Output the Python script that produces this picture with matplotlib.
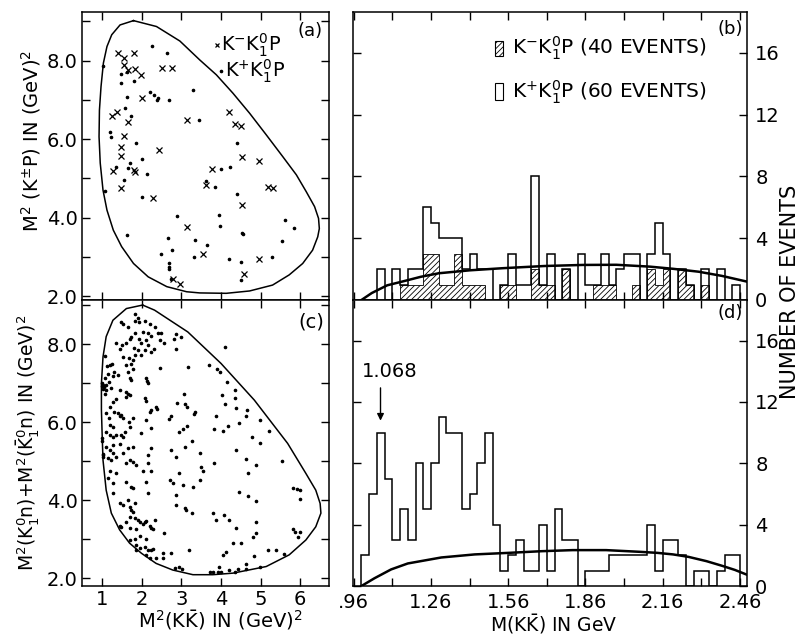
import numpy as np
import matplotlib
matplotlib.use("Agg")
import matplotlib.pyplot as plt
from matplotlib.patches import Rectangle

plt.rcParams['font.family'] = ['DejaVu Sans']
plt.rcParams['mathtext.fontset'] = 'dejavusans'
plt.rcParams['hatch.linewidth'] = 0.6

# ---------------- data ----------------
# (a) Dalitz plot, K- K1 P (crosses) and K+ K1 P (dots)
km_x = [1.39, 1.54, 1.79, 1.54, 1.66, 1.83, 1.98, 2.52, 2.77, 2.01, 1.24, 1.38, 1.65, 1.54, 1.47, 1.47, 2.43, 1.28, 1.79, 1.83,
        1.48, 2.27, 3.13, 3.13, 3.55, 2.78, 2.96, 4.19, 4.36, 4.51, 4.54, 4.95, 3.76, 3.63, 5.18, 5.30, 4.54, 4.95, 4.59]
km_y = [8.19, 8.06, 8.19, 7.89, 7.77, 7.78, 7.64, 7.80, 7.80, 7.04, 6.60, 6.68, 6.43, 6.08, 5.81, 5.58, 5.72, 5.20, 5.21, 5.15,
        4.75, 4.49, 6.49, 3.75, 3.07, 2.43, 2.31, 6.70, 6.38, 6.34, 5.55, 5.44, 5.24, 4.83, 4.79, 4.76, 4.32, 2.94, 2.55]
kp_pts = [(2.25, 8.38), (2.63, 8.19), (1.03, 7.87), (1.47, 7.66), (1.62, 7.70), (1.47, 7.43), (1.79, 7.48), (1.62, 7.07),
          (2.21, 7.20), (2.31, 7.13), (2.39, 7.00), (2.41, 7.04), (2.68, 7.00), (3.29, 7.26), (1.58, 6.79), (1.72, 6.59),
          (3.44, 6.49), (1.20, 6.17), (1.23, 6.06), (1.85, 5.90), (2.00, 5.49), (1.35, 5.30), (1.70, 5.40), (1.66, 5.27),
          (2.14, 5.10), (1.55, 4.96), (1.08, 4.69), (2.00, 4.53), (2.90, 4.04), (1.62, 3.56), (2.65, 3.49), (3.34, 3.43),
          (2.48, 3.07), (2.75, 3.17), (3.31, 2.99), (2.69, 2.83), (2.68, 2.75), (2.68, 2.69), (2.73, 2.43), (4.41, 5.90),
          (3.99, 5.24), (4.22, 5.30), (3.61, 4.94), (3.84, 4.79), (4.41, 4.59), (3.95, 4.07), (3.98, 3.79), (3.65, 3.30),
          (4.54, 3.61), (4.55, 3.58), (5.62, 3.94), (5.83, 3.73), (5.54, 3.40), (5.29, 3.00), (4.20, 2.94), (4.51, 2.88),
          (4.51, 2.41)]
bound_a_x = [1.79, 2.37, 2.96, 3.46, 3.88, 4.30, 4.72, 5.14, 5.56, 5.90, 6.15, 6.36, 6.46, 6.48, 6.44, 6.31, 6.06, 5.72, 5.30,
             4.72, 4.13, 3.46, 3.13, 2.63, 2.16, 1.79, 1.49, 1.28, 1.12, 1.02, 0.95, 0.92, 0.93, 0.97, 1.03, 1.12, 1.24, 1.45, 1.79]
bound_a_y = [9.02, 8.87, 8.50, 8.02, 7.64, 7.17, 6.66, 6.11, 5.55, 5.09, 4.66, 4.28, 3.98, 3.72, 3.51, 3.17, 2.83, 2.54, 2.28,
             2.13, 2.07, 2.08, 2.11, 2.24, 2.49, 2.83, 3.26, 3.68, 4.19, 4.70, 5.39, 6.06, 6.74, 7.34, 7.94, 8.36, 8.66, 8.91, 9.02]

# (c) Dalitz plot, K1 K1bar n
kkn_pts = [
    (2.41, 8.28), (2.49, 8.28), (2.45, 8.11), (2.55, 8.04), (2.80, 8.14), (2.87, 8.26), (2.99, 8.20), (2.85, 7.88), (4.09, 7.94),
    (2.47, 7.40), (3.16, 7.41), (3.69, 7.46), (3.90, 7.36), (3.97, 7.30), (4.14, 7.03), (4.34, 6.83), (4.03, 6.70), (4.35, 6.63),
    (3.06, 6.72), (2.88, 6.49), (3.08, 6.46), (3.14, 6.40), (4.10, 6.46), (4.38, 6.38), (4.66, 6.32), (2.39, 6.34), (2.74, 6.16),
    (2.68, 6.09), (3.33, 6.26), (3.31, 6.21), (3.86, 6.15), (4.63, 6.15), (4.97, 6.06), (4.46, 5.99), (4.17, 5.91), (3.83, 5.83),
    (4.04, 5.78), (3.14, 5.91), (3.04, 5.82), (2.94, 5.74), (4.78, 5.62), (4.97, 5.46), (5.20, 5.77), (3.27, 5.52),
    (3.46, 5.21), (4.38, 5.29), (4.63, 5.05), (4.88, 4.91), (4.67, 4.69), (4.46, 4.22), (4.67, 4.11), (4.88, 3.98), (5.55, 5.01),
    (5.81, 4.31), (5.92, 4.29), (6.00, 4.26), (5.99, 4.03), (5.81, 3.26), (5.87, 3.18), (5.99, 3.18), (5.95, 3.07), (5.58, 2.62),
    (5.39, 2.73), (5.18, 2.73), (4.99, 2.30), (4.84, 2.56), (4.63, 2.36), (4.63, 2.23), (4.42, 2.23), (4.21, 2.21), (4.13, 2.67),
    (4.04, 2.60), (3.96, 2.30), (3.79, 2.15), (3.92, 2.15), (4.00, 2.15), (4.34, 2.17), (3.71, 2.15), (4.07, 3.62), (3.88, 3.50),
    (4.21, 3.50), (4.38, 3.28), (4.30, 2.91), (4.51, 2.90), (4.80, 3.07), (4.87, 3.43), (4.88, 3.15), (3.79, 3.67),
    (2.95, 4.69), (2.70, 4.52), (2.78, 4.45), (3.04, 4.39), (2.87, 5.12), (3.08, 5.38), (2.74, 5.29), (3.50, 4.86), (3.54, 4.74),
    (3.83, 4.95), (3.48, 4.52), (3.29, 4.35), (2.87, 3.88), (3.08, 3.79), (3.12, 3.75), (3.27, 3.67), (2.87, 4.14), (2.57, 3.15),
    (2.53, 2.64), (2.53, 2.51), (2.74, 2.64), (2.93, 2.30), (2.83, 2.26), (3.02, 2.23), (3.20, 2.73), (2.28, 2.74), (2.24, 3.28),
    (2.33, 3.50),
    (1.84, 8.78), (1.90, 8.67), (1.82, 8.61), (1.93, 8.58), (1.48, 8.58), (1.52, 8.52), (1.65, 8.45), (2.07, 8.61), (2.20, 8.52),
    (2.32, 8.45), (2.03, 8.32), (2.15, 8.28), (2.24, 8.21), (1.82, 8.28), (1.73, 8.20), (1.69, 8.13), (1.93, 8.13), (2.11, 8.11),
    (1.99, 8.04), (1.36, 8.03), (1.51, 7.98), (1.61, 8.03), (1.44, 7.87), (1.80, 7.91), (1.90, 7.85), (2.07, 7.85), (2.24, 7.81),
    (2.30, 7.87), (2.15, 7.98), (1.84, 7.73), (1.78, 7.60), (1.73, 7.51), (1.99, 7.73), (1.52, 7.68), (1.68, 7.64), (1.19, 7.47),
    (1.61, 7.47), (1.78, 7.38), (1.65, 7.30), (1.69, 7.13), (1.73, 7.09), (2.11, 7.13), (2.13, 7.07), (2.15, 7.02), (1.40, 7.21),
    (1.27, 7.19), (1.17, 7.04), (1.09, 6.96), (1.04, 6.90), (1.10, 6.83), (1.06, 6.74), (1.23, 6.87), (1.44, 6.83), (1.61, 6.79),
    (1.65, 6.74), (1.69, 6.70), (1.61, 6.66), (1.36, 6.59), (1.27, 6.53), (1.19, 6.40), (1.09, 6.25), (1.17, 6.10), (1.31, 6.27),
    (1.40, 6.23), (1.48, 6.19), (1.52, 6.10), (1.44, 6.15), (1.68, 6.02), (1.78, 6.10), (2.07, 6.62), (2.11, 6.56), (2.20, 6.27),
    (2.24, 6.32), (2.11, 6.06), (2.36, 6.40), (1.19, 5.93), (1.27, 5.89), (1.10, 5.76), (1.19, 5.68), (1.27, 5.63), (1.36, 5.68),
    (1.48, 5.68), (1.52, 5.63), (1.57, 5.76), (1.69, 5.89), (2.24, 5.85), (1.99, 5.72),
    (1.10, 5.38), (1.27, 5.42), (1.44, 5.44), (1.19, 5.29), (1.27, 5.21), (1.15, 5.08), (1.23, 5.04), (1.36, 5.12), (1.52, 5.21),
    (1.65, 5.33), (1.78, 5.38), (2.15, 5.16), (2.24, 5.33), (1.69, 5.04), (1.78, 4.99), (1.86, 4.91), (1.61, 4.95), (2.15, 4.95),
    (2.03, 4.74), (2.24, 4.74), (1.36, 4.69), (1.19, 4.74), (1.15, 4.56), (1.27, 4.44), (1.61, 4.48), (1.73, 4.35), (1.78, 4.31),
    (2.11, 4.48), (2.15, 4.18), (1.27, 4.18), (1.44, 3.92), (1.52, 3.88), (1.65, 4.01), (1.69, 3.84), (1.73, 3.75), (1.78, 3.71),
    (1.82, 3.92), (1.69, 3.58), (1.61, 3.45), (1.82, 3.54), (1.90, 3.50), (1.95, 3.45), (2.07, 3.45), (2.11, 3.48), (2.03, 3.39),
    (1.69, 3.30), (1.48, 3.32), (1.86, 3.26), (2.20, 3.35), (2.28, 3.26), (1.95, 3.09), (1.82, 3.01), (2.11, 3.01), (1.86, 2.85),
    (2.07, 2.81), (2.15, 2.73), (1.95, 2.77), (1.86, 2.73), (2.11, 2.60), (2.24, 2.73), (2.36, 2.51), (2.20, 2.51),
    (0.99, 7.00), (1.00, 6.92), (1.02, 6.86), (1.01, 6.97), (1.00, 5.60), (1.00, 5.52), (1.01, 5.20), (1.02, 5.12), (1.01, 5.16),
    (1.45, 3.35), (1.70, 2.97), (1.08, 7.70), (1.12, 7.45), (1.15, 7.25), (1.08, 7.15), (1.25, 7.50), (1.30, 7.30)]
bound_c_x = [2.02, 2.32, 3.16, 4.00, 4.84, 5.68, 6.14, 6.39, 6.50, 6.52, 6.39, 6.14, 5.72, 5.14, 4.30, 3.79, 3.29, 2.78, 2.36,
             1.99, 1.69, 1.44, 1.23, 1.10, 1.02, 1.00, 0.98, 0.98, 1.02, 1.10, 1.27, 1.61, 2.02]
bound_c_y = [9.01, 8.88, 8.32, 7.51, 6.57, 5.46, 4.69, 4.26, 3.92, 3.67, 3.32, 2.98, 2.60, 2.30, 2.13, 2.09, 2.09, 2.21, 2.38,
             2.64, 2.90, 3.24, 3.67, 4.26, 5.03, 5.63, 6.32, 7.00, 7.68, 8.20, 8.62, 8.92, 9.01]

# (b) and (d) mass histograms, 0.03 GeV bins from 0.99 to 2.46
b_total = [0, 0, 2, 0, 2, 1, 2, 2, 6, 5, 4, 4, 4, 2, 3, 2, 2, 0, 1, 3, 1, 1, 8, 1, 3,
           0, 2, 0, 3, 1, 1, 3, 1, 2, 3, 3, 0, 3, 5, 3, 0, 2, 1, 0, 2, 0, 2, 0, 1]
b_kminus = [0, 0, 0, 0, 0, 1, 1, 1, 3, 3, 1, 1, 3, 1, 1, 1, 0, 0, 1, 1, 0, 0, 2, 1, 1,
            0, 2, 0, 0, 0, 1, 1, 1, 0, 0, 1, 0, 2, 1, 2, 0, 2, 1, 0, 1, 0, 0, 0, 0]
d_counts = [2, 6, 10, 7, 3, 5, 3, 8, 5, 8, 11, 10, 10, 5, 6, 8, 10, 4, 1, 2, 3, 1, 1, 4, 1,
            5, 3, 3, 0, 1, 1, 1, 2, 2, 2, 2, 2, 4, 1, 3, 3, 2, 0, 1, 1, 0, 1, 2, 2]
bins = np.linspace(0.99, 2.46, 50)

b_curve_x = [0.99, 1.03, 1.09, 1.15, 1.22, 1.29, 1.41, 1.54, 1.70, 1.85, 1.98, 2.11, 2.20, 2.30, 2.39, 2.487]
b_curve_y = [0.0, 0.45, 0.95, 1.20, 1.50, 1.73, 1.92, 2.06, 2.20, 2.27, 2.28, 2.16, 2.02, 1.83, 1.56, 1.19]
d_curve_x = [0.99, 1.04, 1.105, 1.17, 1.30, 1.43, 1.56, 1.69, 1.81, 1.94, 2.07, 2.14, 2.20, 2.26, 2.33, 2.39, 2.44, 2.485]
d_curve_y = [0.0, 0.50, 1.08, 1.47, 1.86, 2.06, 2.16, 2.27, 2.34, 2.34, 2.23, 2.16, 2.06, 1.90, 1.62, 1.32, 1.05, 0.75]

mass_ticks = [0.96, 1.11, 1.26, 1.41, 1.56, 1.71, 1.86, 2.01, 2.16, 2.31, 2.46]
mass_labels = ['.96', '', '1.26', '', '1.56', '', '1.86', '', '2.16', '', '2.46']
ev_ticks = [0, 4, 8, 12, 16]
dal_yticks = [2, 3, 4, 5, 6, 7, 8, 9]
dal_ylabels = ['2.0', '', '4.0', '', '6.0', '', '8.0', '']
dal_xticks = [1, 2, 3, 4, 5, 6]

# ---------------- figure ----------------
fig = plt.figure(figsize=(8.04, 6.38), dpi=100)
ax_a = fig.add_axes([0.102, 0.5298, 0.307, 0.4514])
ax_c = fig.add_axes([0.102, 0.0815, 0.307, 0.4483])
ax_b = fig.add_axes([0.439, 0.5298, 0.490, 0.4514])
ax_d = fig.add_axes([0.439, 0.0815, 0.490, 0.4483])

for ax in (ax_a, ax_b, ax_c, ax_d):
    ax.tick_params(direction='in', top=True, right=True, length=6, width=1.0, labelsize=14, pad=3)
    for s in ax.spines.values():
        s.set_linewidth(1.1)

txt = r'$\mathrm{K^{-}K^{0}_{1}P}$'
txt2 = r'$\mathrm{K^{+}K^{0}_{1}P}$'

# (a)
ax_a.plot(bound_a_x, bound_a_y, color='k', lw=1.1)
ax_a.plot(km_x, km_y, 'x', color='k', ms=4, mew=0.9)
ax_a.plot([p[0] for p in kp_pts], [p[1] for p in kp_pts], 'o', color='k', ms=1.6)
ax_a.set_xlim(0.49, 6.72)
ax_a.set_ylim(1.90, 9.24)
ax_a.set_xticks(dal_xticks)
ax_a.set_xticklabels([])
ax_a.set_yticks(dal_yticks)
ax_a.set_yticklabels(dal_ylabels)
ax_a.plot([0.548], [0.885], 'x', color='k', ms=3.5, mew=0.9, transform=ax_a.transAxes)
ax_a.text(0.565, 0.885, txt, transform=ax_a.transAxes, va='center', fontsize=14)
ax_a.plot([0.562], [0.795], 'o', color='k', ms=1.6, transform=ax_a.transAxes)
ax_a.text(0.578, 0.795, txt2, transform=ax_a.transAxes, va='center', fontsize=14)
ax_a.text(0.925, 0.935, '(a)', transform=ax_a.transAxes, ha='center', va='center', fontsize=13)

# (c)
ax_c.plot(bound_c_x, bound_c_y, color='k', lw=1.1)
ax_c.plot([p[0] for p in kkn_pts], [p[1] for p in kkn_pts], 'o', color='k', ms=1.6)
ax_c.set_xlim(0.49, 6.72)
ax_c.set_ylim(1.80, 9.14)
ax_c.set_xticks(dal_xticks)
ax_c.set_xticklabels([str(t) for t in dal_xticks])
ax_c.set_yticks(dal_yticks)
ax_c.set_yticklabels(dal_ylabels)
ax_c.text(0.93, 0.924, '(c)', transform=ax_c.transAxes, ha='center', va='center', fontsize=14)

# (b)
ax_b.stairs(b_kminus, bins, fill=True, facecolor='white', edgecolor='k', hatch='//////', lw=0.6)
ax_b.stairs(b_total, bins, color='k', lw=1.1)
ax_b.plot(b_curve_x, b_curve_y, color='k', lw=1.8)
ax_b.add_patch(Rectangle((0.36, 0.848), 0.02, 0.052, transform=ax_b.transAxes,
                         facecolor='white', edgecolor='k', hatch='//////', lw=0.8))
ax_b.add_patch(Rectangle((0.36, 0.694), 0.02, 0.059, transform=ax_b.transAxes,
                         fill=False, edgecolor='k', lw=0.8))
ax_b.text(0.404, 0.875, txt + ' (40 EVENTS)', transform=ax_b.transAxes, va='center', fontsize=14.5)
ax_b.text(0.404, 0.722, txt2 + ' (60 EVENTS)', transform=ax_b.transAxes, va='center', fontsize=14.5)
ax_b.text(0.957, 0.94, '(b)', transform=ax_b.transAxes, ha='center', va='center', fontsize=13)

# (d)
ax_d.stairs(d_counts, bins, color='k', lw=1.1)
ax_d.plot(d_curve_x, d_curve_y, color='k', lw=1.8)
ax_d.annotate('', xy=(1.064, 10.6), xytext=(1.064, 13.1),
              arrowprops=dict(arrowstyle='-|>', color='k', lw=1.0, mutation_scale=10))
ax_d.text(1.10, 14.0, '1.068', ha='center', va='center', fontsize=14)
ax_d.text(0.957, 0.955, '(d)', transform=ax_d.transAxes, ha='center', va='center', fontsize=13)

for ax in (ax_b, ax_d):
    ax.set_xlim(0.957, 2.487)
    ax.set_ylim(0, 18.65)
    ax.set_xticks(mass_ticks)
    ax.set_yticks(ev_ticks)
    ax.set_yticklabels([str(t) for t in ev_ticks])
    ax.tick_params(axis='y', labelleft=False, labelright=True, pad=6)
ax_b.set_xticklabels([])
ax_d.set_xticklabels(mass_labels)
ax_d.tick_params(axis='x', pad=5)

# axis titles
fig.text(0.0386, 0.779, r'M$^2$ (K$^{\pm}$P) IN (GeV)$^2$', rotation=90, ha='center', va='center', fontsize=14)
fig.text(0.0348, 0.3056, r'M$^2$(K$^{0}_{1}$n)+M$^2$($\bar{\mathrm{K}}^{0}_{1}$n) IN (GeV)$^2$',
         rotation=90, ha='center', va='center', fontsize=13.5)
fig.text(0.2736, 0.0286, r'M$^2$(K$\bar{\mathrm{K}}$) IN (GeV)$^2$', ha='center', va='center', fontsize=14)
fig.text(0.689, 0.022, r'M(K$\bar{\mathrm{K}}$) IN GeV', ha='center', va='center', fontsize=13.5)
fig.text(0.9826, 0.5423, 'NUMBER OF EVENTS', rotation=90, ha='center', va='center', fontsize=15)

fig.savefig('out.png', dpi=100)
